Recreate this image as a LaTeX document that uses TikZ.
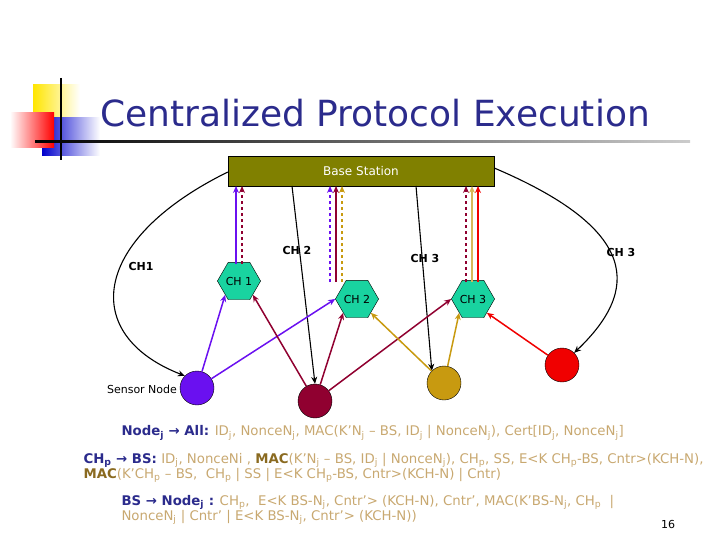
\documentclass[tikz,border=0pt]{standalone}
\usepackage{fontspec}
\setmainfont{DejaVu Sans}
\usetikzlibrary{shapes.geometric,arrows.meta}
\definecolor{navy}{HTML}{2B2B8C}
\definecolor{tan}{HTML}{C8A870}
\definecolor{olivebs}{HTML}{808000}
\definecolor{hexc}{HTML}{19D3A0}
\definecolor{purp}{HTML}{6A10F0}
\definecolor{maroon}{HTML}{900030}
\definecolor{gold}{HTML}{C89A10}
\definecolor{redn}{HTML}{F00000}
\definecolor{mac}{HTML}{8A6A20}
\tikzset{
 hexn/.style={regular polygon,regular polygon sides=6,draw=black,fill=hexc,minimum size=42pt,inner sep=0pt,font=\fontsize{11}{11}\selectfont},
 sens/.style={circle,draw=black,minimum size=34pt,inner sep=0pt},
 arr/.style={-{Stealth[length=7pt,width=6pt]},line width=1.5pt},
 blk/.style={-{Stealth[length=7pt,width=6pt]},line width=1.1pt},
 lbl/.style={font=\bfseries\fontsize{11}{11}\selectfont},
 txt/.style={anchor=west,align=left,text=tan,font=\fontsize{13.3}{15.5}\selectfont},
}
\newcommand{\nb}[1]{\textcolor{navy}{\textbf{#1}}}
\begin{document}
\begin{tikzpicture}[x=1pt,y=-1pt]
\useasboundingbox (0,0) rectangle (720,540);
% logo
\shade[left color=yellow!80!orange,right color=white] (33,85) rectangle (80,118);
\shade[left color=blue!80!black,right color=white] (42,118) rectangle (100,156);
\shade[left color=white,right color=red] (10,113) rectangle (54,148);
\draw[line width=1.5pt] (61,78) -- (61,160);
\shade[left color=black,right color=gray!40] (35,141) rectangle (690,143);
\node[anchor=base west,text=navy,font=\fontsize{36}{36}\selectfont,inner sep=0pt] (title) at (100,127) {Centralized Protocol Execution};
% base station
\node[draw=black,fill=olivebs,minimum width=266pt,minimum height=30pt,inner sep=0pt,text=white,font=\fontsize{12}{12}\selectfont] (bs) at (361,171) {Base Station};
\node[hexn] (h1) at (239,281) {CH 1};
\node[hexn] (h2) at (357,299) {CH 2};
\node[hexn] (h3) at (473,299) {CH 3};
\node[sens,fill=purp] (s1) at (197,388) {};
\node[sens,fill=maroon] (s2) at (315,401) {};
\node[sens,fill=gold] (s3) at (444,383) {};
\node[sens,fill=redn] (s4) at (562,365) {};
\node[lbl] (l1) at (141,266) {CH1};
\node[lbl] (l2) at (297,250) {CH 2};
\node[lbl] (l3) at (425,258) {CH 3};
\node[lbl] (l4) at (621,252) {CH 3};
\node[font=\fontsize{11}{11}\selectfont] (sn) at (142,389) {Sensor Node};
% curves
\draw[blk] (bs.west |- 0,172) .. controls (90,240) and (80,335) .. (s1.north west);
\draw[blk] (bs.east |- 0,168) .. controls (640,230) and (640,290) .. (s4.north east);
\draw[blk] (292,186) -- (s2.north);
\draw[blk] (416,186) -- (s3.north west);
% vertical
\draw[arr,purp] (236,264) -- (236,186);
\draw[arr,maroon,dashed] (242,264) -- (242,186);
\draw[arr,purp,dashed] (330,282) -- (330,186);
\draw[arr,maroon] (336,282) -- (336,186);
\draw[arr,gold,dashed] (342,282) -- (342,186);
\draw[arr,maroon,dashed] (466,282) -- (466,186);
\draw[arr,gold!70!white] (472,282) -- (472,186);
\draw[arr,redn] (478,282) -- (478,186);
% diagonals
\draw[arr,purp] (s1) -- (h1.south west);
\draw[arr,purp] (s1) -- (h2.west);
\draw[arr,maroon] (s2) -- (h1.south east);
\draw[arr,maroon] (s2) -- (h2.south west);
\draw[arr,maroon] (s2) -- (h3.west);
\draw[arr,gold] (s3) -- (h2.south east);
\draw[arr,gold] (s3) -- (h3.south west);
\draw[arr,redn] (s4) -- (h3.south east);
% text
\node[txt] (t1) at (118,433) {\nb{Node\textsubscript{j} → All:} ID\textsubscript{j}, NonceN\textsubscript{j}, MAC(K’N\textsubscript{j} – BS, ID\textsubscript{j} | NonceN\textsubscript{j}), Cert[ID\textsubscript{j}, NonceN\textsubscript{j}]};
\node[txt] (t2) at (80,468) {\nb{CH\textsubscript{p} → BS:} ID\textsubscript{j}, NonceNi , \textcolor{mac}{\textbf{MAC}}(K’N\textsubscript{j} – BS, ID\textsubscript{j} | NonceN\textsubscript{j}), CH\textsubscript{p}, SS, E<K CH\textsubscript{p}-BS, Cntr>(KCH-N),\\\textcolor{mac}{\textbf{MAC}}(K’CH\textsubscript{p} – BS,\ \ CH\textsubscript{p} | SS | E<K CH\textsubscript{p}-BS, Cntr>(KCH-N) | Cntr)};
\node[txt] (t3) at (118,510) {\nb{BS → Node\textsubscript{j} :} CH\textsubscript{p},\ \ E<K BS-N\textsubscript{j}, Cntr’> (KCH-N), Cntr’, MAC(K’BS-N\textsubscript{j}, CH\textsubscript{p}\ \ |\\NonceN\textsubscript{j} | Cntr’ | E<K BS-N\textsubscript{j}, Cntr’> (KCH-N))};
\node[font=\fontsize{11}{11}\selectfont] (pg) at (668,524) {16};
\end{tikzpicture}
\end{document}
